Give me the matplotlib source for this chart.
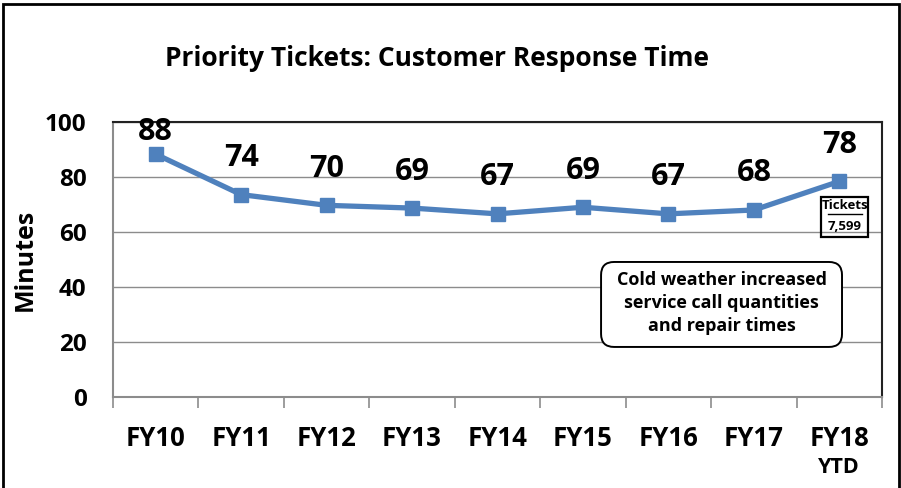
import matplotlib
matplotlib.use("Agg")
import matplotlib.pyplot as plt
from matplotlib.patches import Rectangle, FancyBboxPatch

categories = ["FY10", "FY11", "FY12", "FY13", "FY14", "FY15", "FY16", "FY17", "FY18"]
minutes = [88.3, 73.6, 69.7, 68.7, 66.6, 69.0, 66.6, 68.0, 78.4]
yticks = [0, 20, 40, 60, 80, 100]
title = "Priority Tickets: Customer Response Time"
note = "Cold weather increased\nservice call quantities\nand repair times"
tickets_label = "Tickets"
tickets_value = "7,599"

plt.rcParams['font.family'] = ['Open Sans', 'DejaVu Sans']
plt.rcParams['font.weight'] = 'bold'

W, H = 901, 488
fig = plt.figure(figsize=(W / 100, H / 100), dpi=100)
ax = fig.add_axes([113 / W, 1 - 397 / H, (882 - 113) / W, (397 - 122) / H])

x = list(range(len(categories)))
line_color = "#4F81BD"
ax.plot(x, minutes, color=line_color, lw=3.8, marker="s", markersize=10,
        markerfacecolor=line_color, markeredgecolor=line_color, zorder=3)

ax.set_xlim(-0.5, len(categories) - 0.5)
ax.set_ylim(0, 100)
ax.set_yticks(yticks)
ax.set_yticklabels([str(t) for t in yticks], fontsize=17.5, fontweight='bold')
ax.tick_params(axis='y', length=0, pad=19)
ax.grid(axis='y', color="#8C8C8C", lw=1.0, zorder=0)
ax.set_axisbelow(True)

ax.set_xticks([i + 0.5 for i in range(-1, len(categories))], minor=False)
ax.set_xticklabels([])
ax.tick_params(axis='x', which='major', length=8, width=1.2, color="#8C8C8C")
ax.set_xticks(x, minor=True)
ax.set_xticklabels(categories, minor=True, fontsize=18.5, fontweight='bold')
ax.tick_params(axis='x', which='minor', length=0, pad=20)

for s in ['left', 'bottom']:
    ax.spines[s].set_color("#8C8C8C")
    ax.spines[s].set_linewidth(1.5)
for s in ['top', 'right']:
    ax.spines[s].set_color("#222222")
    ax.spines[s].set_linewidth(1.5)

ax.set_ylabel("Minutes", fontsize=18, fontweight='bold', labelpad=5)

# data labels
for xi, v in zip(x, minutes):
    ly = min(v + 13.3, 96.4)
    ax.text(xi, ly, f"{round(v)}", ha='center', va='center', fontsize=22,
            fontweight='bold', color='black', zorder=4)

# YTD under last label
ax.text(x[-1], -0.255, "YTD", transform=ax.get_xaxis_transform(), ha='center',
        va='center', fontsize=15.5, fontweight='bold', clip_on=False)

# tickets box
bx = x[-1] + 0.065
ax.text(bx, 69.6, tickets_label, ha='center', va='center', fontsize=9.5,
        fontweight='bold')
ax.plot([bx - 0.2, bx + 0.2], [66.4, 66.4], color='black', lw=1.0)
ax.text(bx, 62.0, tickets_value, ha='center', va='center', fontsize=9.5,
        fontweight='bold')
ax.add_patch(Rectangle((bx - 0.275, 58.2), 0.55, 14.6, fill=False,
                       edgecolor='black', lw=1.6, zorder=5))

# note box
px_x = 85.44   # pixels per x unit
px_y = 2.75    # pixels per y unit
bx0, bx1 = 5.212, 8.032
by0, by1 = 18.2, 49.1
ax.add_patch(FancyBboxPatch((bx0, by0), bx1 - bx0, by1 - by0,
                            boxstyle=f"round,pad=0,rounding_size={13 / px_x}",
                            mutation_aspect=px_x / px_y, fc='white', ec='black',
                            lw=1.4, zorder=5))
ax.text((bx0 + bx1) / 2, (by0 + by1) / 2 + 0.4, note, ha='center', va='center',
        fontsize=13, fontweight='bold', linespacing=1.36, zorder=6)

# title
fig.text(437 / W, 1 - 58 / H, title, ha='center', va='center', fontsize=19,
         fontweight='bold')

# outer frame
fig.add_artist(Rectangle((3 / W, -0.02), (899 - 3) / W, 1 - 4 / H + 0.02,
                         transform=fig.transFigure, fill=False,
                         edgecolor='black', lw=2.0))

fig.savefig("out.png", dpi=100)
